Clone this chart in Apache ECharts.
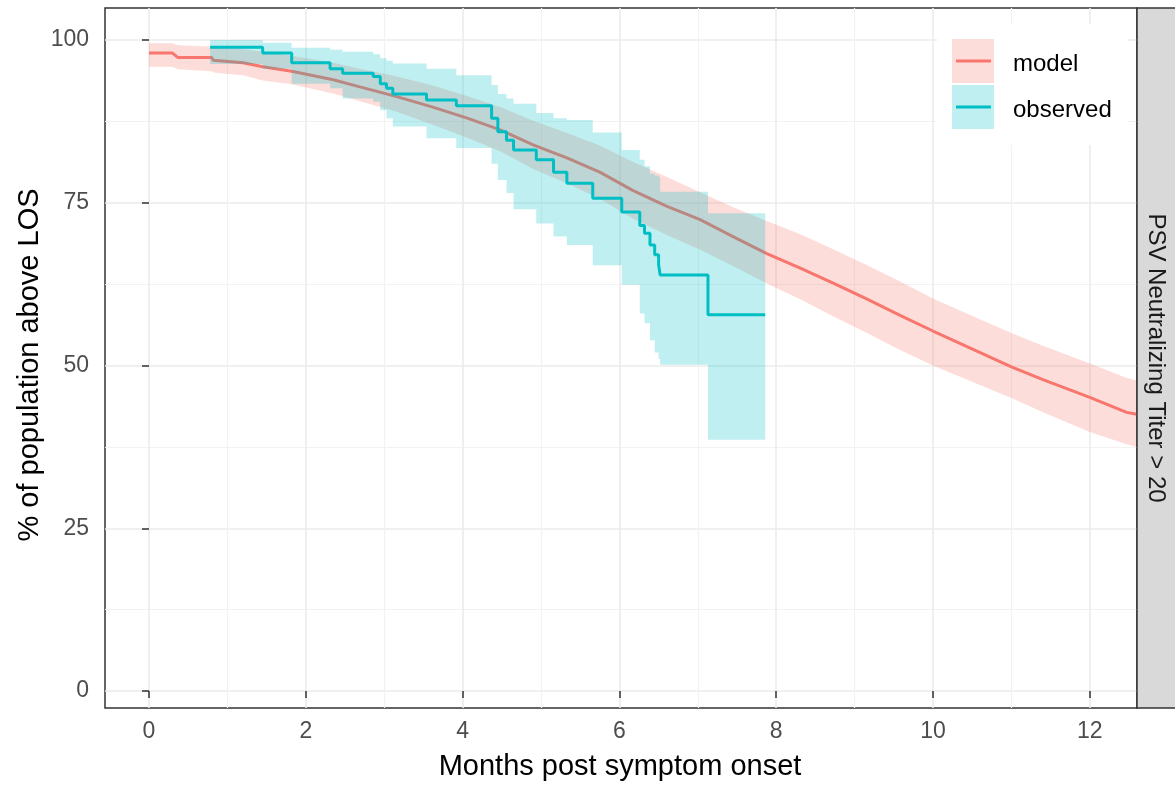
<!DOCTYPE html>
<html><head><meta charset="utf-8">
<script src="https://cdn.jsdelivr.net/npm/echarts@6/dist/echarts.min.js"></script>
<style>html,body{margin:0;padding:0;background:#fff}#c{width:1175px;height:788px}</style>
</head><body><div id="c"></div>
<script>
// ---- axis ticks ----
const xTicks = [0, 2, 4, 6, 8, 10, 12];
const xMinor = [1, 3, 5, 7, 9, 11];
const yTicks = [0, 25, 50, 75, 100];
const yMinor = [12.5, 37.5, 62.5, 87.5];

// ---- model (months, %) ----
const modelTime  = [0, 0.3, 0.37, 0.8, 0.82, 1.2, 1.45, 1.82, 2.35, 2.69, 3.16, 3.62, 4.06, 4.48, 4.9, 5.33, 5.75, 6.17, 6.6, 7.03, 7.45, 7.88, 8.3, 8.72, 9.16, 9.58, 10.0, 10.56, 11.0, 11.41, 12.0, 12.47, 12.6];
const modelValue = [98.0, 98.0, 97.3, 97.3, 96.9, 96.5, 95.9, 95.2, 93.9, 92.8, 91.3, 89.7, 88.0, 86.2, 83.9, 81.9, 79.7, 76.9, 74.5, 72.4, 69.8, 67.2, 65.0, 62.7, 60.2, 57.7, 55.3, 52.2, 49.8, 47.8, 45.1, 42.8, 42.5];
const modelUpper = [99.5, 99.5, 99.2, 99.0, 98.9, 98.6, 98.2, 97.6, 96.5, 95.6, 94.4, 93.0, 91.4, 89.7, 87.6, 85.7, 83.8, 81.3, 79.0, 76.6, 74.3, 72.2, 70.2, 67.9, 65.4, 62.9, 60.3, 57.3, 55.0, 53.0, 50.3, 48.1, 47.7];
const modelLower = [95.9, 95.9, 95.5, 95.2, 95.0, 94.6, 93.8, 93.2, 91.8, 90.6, 89.0, 87.0, 85.0, 82.9, 80.2, 78.0, 75.6, 72.6, 70.1, 67.8, 65.3, 62.6, 60.2, 57.6, 55.0, 52.4, 50.0, 47.2, 45.0, 42.8, 39.8, 37.9, 37.5];

// ---- observed (Kaplan-Meier style steps) ----
const obsTime  = [0.78, 1.45, 1.82, 2.31, 2.47, 2.86, 2.95, 3.03, 3.11, 3.54, 3.92, 4.37, 4.45, 4.56, 4.65, 4.94, 5.16, 5.33, 5.66, 6.03, 6.26, 6.32, 6.39, 6.45, 6.50, 6.52, 7.13, 7.86];
const obsValue = [98.9, 98.0, 96.5, 95.6, 94.9, 94.4, 93.3, 92.6, 91.7, 90.8, 89.9, 88.0, 85.9, 84.6, 83.1, 81.6, 79.7, 78.0, 75.7, 73.6, 71.5, 70.3, 68.5, 67.0, 65.5, 63.9, 57.8, 57.8];
const obsUpper = [100.0, 99.6, 98.8, 98.5, 98.2, 97.8, 97.2, 96.8, 96.4, 95.6, 94.6, 93.1, 91.7, 91.0, 90.2, 88.8, 88.0, 87.7, 85.8, 83.1, 81.6, 80.6, 79.5, 79.2, 79.0, 76.7, 73.4, 73.4];
const obsLower = [96.3, 95.6, 93.3, 92.6, 91.0, 90.5, 89.2, 88.0, 86.7, 84.9, 83.4, 81.0, 78.5, 76.5, 74.0, 71.8, 69.8, 68.5, 65.4, 62.4, 58.0, 56.5, 53.9, 52.0, 51.0, 50.1, 38.6, 38.6];

const FONT = '"Liberation Sans", Arial, sans-serif';
const RED = '#F8766D', TEAL = '#00BFC4';
const RED_FILL = 'rgba(248,118,109,0.25)', TEAL_FILL = 'rgba(0,191,196,0.25)';
const X_MIN = -0.561, X_MAX = 12.602, Y_MIN = -2.61, Y_MAX = 104.92;

function pairs(t, v) { return t.map((x, i) => [x, v[i]]); }

// ribbon drawn as one polygon through the axis scales (api.coord)
function bandSeries(name, t, lo, up, fill, stepped, z) {
  return {
    type: 'custom', name: name, z: z, silent: true,
    data: [[t[0], lo[0]]],
    renderItem: function (params, api) {
      const top = [], bot = [];
      for (let i = 0; i < t.length; i++) {
        top.push(api.coord([t[i], up[i]]));
        bot.push(api.coord([t[i], lo[i]]));
        if (stepped && i < t.length - 1) {
          top.push(api.coord([t[i + 1], up[i]]));
          bot.push(api.coord([t[i + 1], lo[i]]));
        }
      }
      return {type: 'polygon', shape: {points: top.concat(bot.reverse())}, style: {fill: fill}};
    }
  };
}

const chart = echarts.init(document.getElementById('c'), null, {renderer: 'canvas'});

chart.setOption({
  animation: false,
  grid: {left: 105, right: 38, top: 8, bottom: 80, show: true, borderColor: '#333333', borderWidth: 1.5, backgroundColor: 'transparent'},
  xAxis: [
    {
      type: 'value', min: X_MIN, max: X_MAX,
      axisLine: {show: false},
      axisTick: {show: true, customValues: xTicks, length: 7, lineStyle: {color: '#333333', width: 1.5}},
      axisLabel: {customValues: xTicks, color: '#4D4D4D', fontSize: 23, fontFamily: FONT, margin: 12},
      splitLine: {show: true, lineStyle: {color: '#EBEBEB', width: 1.6}}
    },
    {
      type: 'value', min: X_MIN, max: X_MAX, position: 'bottom',
      axisLine: {show: false},
      axisTick: {show: false, customValues: xMinor},
      axisLabel: {show: false, customValues: xMinor},
      splitLine: {show: true, lineStyle: {color: '#F2F2F2', width: 1.2}}
    }
  ],
  yAxis: [
    {
      type: 'value', min: Y_MIN, max: Y_MAX,
      axisLine: {show: false},
      axisTick: {show: true, customValues: yTicks, length: 7, lineStyle: {color: '#333333', width: 1.5}},
      axisLabel: {customValues: yTicks, color: '#4D4D4D', fontSize: 23, fontFamily: FONT, margin: 16},
      splitLine: {show: true, lineStyle: {color: '#EBEBEB', width: 1.6}}
    },
    {
      type: 'value', min: Y_MIN, max: Y_MAX, position: 'left',
      axisLine: {show: false},
      axisTick: {show: false, customValues: yMinor},
      axisLabel: {show: false, customValues: yMinor},
      splitLine: {show: true, lineStyle: {color: '#F2F2F2', width: 1.2}}
    }
  ],
  series: [
    bandSeries('modelBand', modelTime, modelLower, modelUpper, RED_FILL, false, 2),
    {type: 'line', name: 'model', data: pairs(modelTime, modelValue), symbol: 'none', silent: true, z: 3,
     lineStyle: {color: RED, width: 3}},
    bandSeries('observedBand', obsTime, obsLower, obsUpper, TEAL_FILL, true, 4),
    {type: 'line', name: 'observed', data: pairs(obsTime, obsValue), step: 'end', symbol: 'none', silent: true, z: 5,
     lineStyle: {color: TEAL, width: 3}}
  ],
  graphic: [
    // axis titles
    {type: 'text', x: 620, y: 767, z: 100, style: {text: 'Months post symptom onset', fill: '#000', font: '29px ' + FONT, align: 'center', verticalAlign: 'middle', textAlign: 'center', textVerticalAlign: 'middle'}},
    {type: 'text', x: 30, y: 365, rotation: Math.PI / 2, z: 100, style: {text: '% of population above LOS', fill: '#000', font: '29px ' + FONT, align: 'center', verticalAlign: 'middle', textAlign: 'center', textVerticalAlign: 'middle'}},
    // facet strip
    {type: 'rect', z: 100, shape: {x: 1137, y: 8, width: 60, height: 700}, style: {fill: '#D9D9D9', stroke: '#333333', lineWidth: 1.5}},
    {type: 'text', x: 1156, y: 358, rotation: -Math.PI / 2, z: 101, style: {text: 'PSV Neutralizing Titer > 20', fill: '#1A1A1A', font: '24px ' + FONT, align: 'center', verticalAlign: 'middle', textAlign: 'center', textVerticalAlign: 'middle'}},
    // legend
    {type: 'rect', z: 100, shape: {x: 937, y: 24, width: 191, height: 121}, style: {fill: '#FFFFFF'}},
    {type: 'rect', z: 101, shape: {x: 952, y: 39, width: 42, height: 44}, style: {fill: RED_FILL}},
    {type: 'rect', z: 101, shape: {x: 952, y: 85, width: 42, height: 44}, style: {fill: TEAL_FILL}},
    {type: 'line', z: 102, shape: {x1: 956, y1: 61, x2: 991, y2: 61}, style: {stroke: RED, lineWidth: 3}},
    {type: 'line', z: 102, shape: {x1: 956, y1: 107, x2: 991, y2: 107}, style: {stroke: TEAL, lineWidth: 3}},
    {type: 'text', x: 1013, y: 64, z: 102, style: {text: 'model', fill: '#000', font: '24px ' + FONT, align: 'left', verticalAlign: 'middle', textAlign: 'left', textVerticalAlign: 'middle'}},
    {type: 'text', x: 1013, y: 110, z: 102, style: {text: 'observed', fill: '#000', font: '24px ' + FONT, align: 'left', verticalAlign: 'middle', textAlign: 'left', textVerticalAlign: 'middle'}}
  ]
});
</script>
</body></html>
